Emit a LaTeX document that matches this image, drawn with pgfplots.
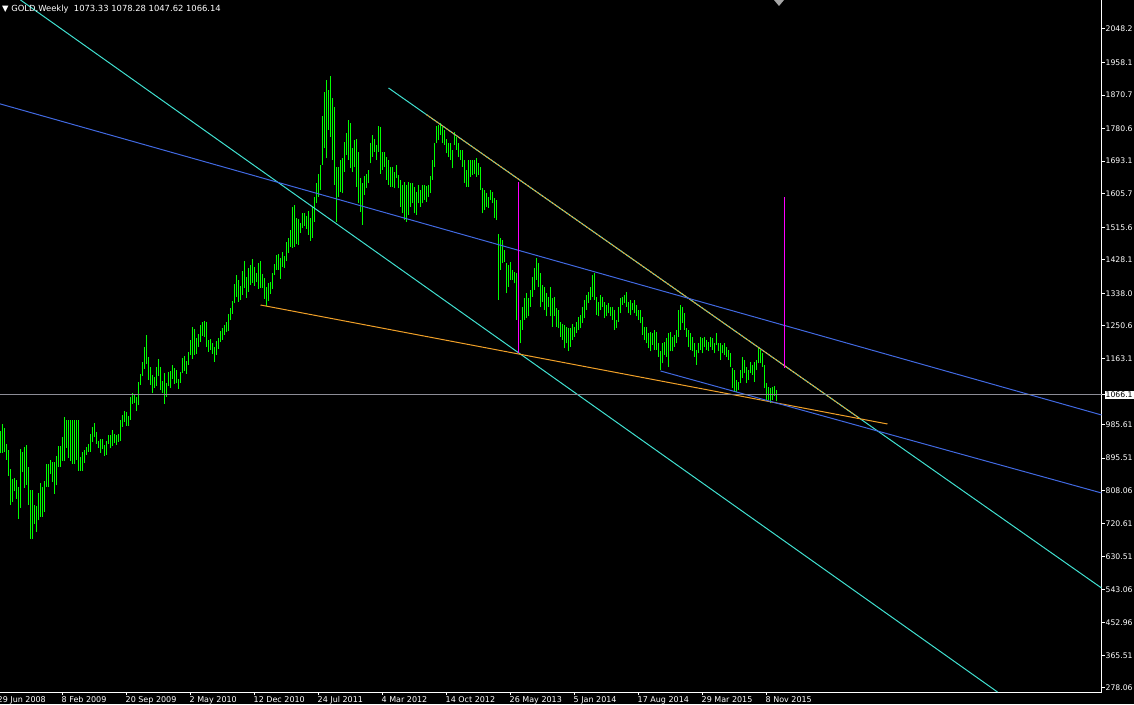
\documentclass[border=0pt]{standalone}
\usepackage{pgfplots}
\usepackage{pgfplotstable}
\usepackage{fontspec}
\setmainfont{DejaVu Sans}
\pgfplotsset{compat=1.18}

\definecolor{barg}{RGB}{0,255,0}
\definecolor{tq}{RGB}{64,224,208}
\definecolor{rb}{RGB}{65,105,225}
\definecolor{og}{RGB}{240,160,40}
\definecolor{mg}{RGB}{255,0,255}
\definecolor{gl}{RGB}{140,140,150}

% weekly bars: week index (0 = 29 Jun 2008), high, low
\pgfplotstableread[row sep=\\]{
w h l\\
1 969 910\\ 2 987 910\\ 3 976 912\\ 4 933 891\\ 5 916 848\\ 6 866 770\\ 7 839 778\\ 8 842 806\\
9 837 786\\ 10 819 732\\ 11 920 762\\ 12 912 859\\ 13 925 816\\ 14 931 824\\ 15 872 770\\ 16 810 679\\
17 810 679\\ 18 770 719\\ 19 767 698\\ 20 802 728\\ 21 829 738\\ 22 818 738\\ 23 834 752\\ 24 880 819\\
25 880 819\\ 26 891 854\\ 27 885 832\\ 28 885 800\\ 29 901 822\\ 30 928 872\\ 31 928 872\\ 32 952 888\\
33 1006 888\\ 34 998 923\\ 35 998 896\\ 36 998 888\\ 37 998 880\\ 38 998 880\\ 39 998 891\\ 40 998 861\\
41 899 861\\ 42 912 861\\ 43 917 882\\ 44 925 904\\ 45 933 912\\ 46 960 912\\ 47 979 939\\ 48 990 952\\
49 966 933\\ 50 941 923\\ 51 947 909\\ 52 947 920\\ 53 931 901\\ 54 941 904\\ 55 958 933\\ 56 958 922\\
57 971 928\\ 58 960 936\\ 59 958 931\\ 60 960 939\\ 61 998 941\\ 62 1011 979\\ 63 1022 993\\ 64 1019 982\\
65 1009 982\\ 66 1060 998\\ 67 1070 1041\\ 68 1068 1044\\ 69 1060 1022\\ 70 1100 1038\\ 71 1121 1092\\ 72 1154 1116\\
73 1194 1135\\ 74 1226 1148\\ 75 1167 1105\\ 76 1140 1092\\ 77 1119 1070\\ 78 1113 1084\\ 79 1140 1089\\ 80 1162 1116\\
81 1140 1079\\ 82 1103 1070\\ 83 1124 1041\\ 84 1097 1060\\ 85 1127 1089\\ 86 1130 1084\\ 87 1146 1108\\ 88 1138 1095\\
89 1132 1097\\ 90 1108 1081\\ 91 1127 1097\\ 92 1164 1124\\ 93 1170 1130\\ 94 1156 1122\\ 95 1181 1146\\ 96 1213 1173\\
97 1248 1162\\ 98 1242 1173\\ 99 1218 1175\\ 100 1229 1194\\ 101 1253 1207\\ 102 1261 1224\\ 103 1264 1221\\ 104 1261 1194\\
105 1213 1181\\ 106 1216 1186\\ 107 1205 1175\\ 108 1194 1154\\ 109 1210 1173\\ 110 1218 1189\\ 111 1237 1207\\ 112 1245 1213\\
113 1253 1226\\ 114 1261 1234\\ 115 1283 1237\\ 116 1299 1266\\ 117 1318 1283\\ 118 1363 1312\\ 119 1387 1328\\ 120 1374 1315\\
121 1358 1320\\ 122 1398 1334\\ 123 1425 1353\\ 124 1382 1326\\ 125 1406 1342\\ 126 1414 1361\\ 127 1430 1366\\ 128 1409 1358\\
129 1393 1369\\ 130 1420 1350\\ 131 1425 1353\\ 132 1390 1353\\ 133 1379 1323\\ 134 1355 1304\\ 135 1366 1318\\ 136 1369 1336\\
137 1393 1350\\ 138 1417 1387\\ 139 1441 1401\\ 140 1444 1401\\ 141 1433 1377\\ 142 1449 1409\\ 143 1438 1406\\ 144 1476 1425\\
145 1487 1447\\ 146 1508 1463\\ 147 1570 1460\\ 148 1575 1463\\ 149 1540 1471\\ 150 1538 1468\\ 151 1527 1500\\ 152 1554 1514\\
153 1554 1519\\ 154 1546 1510\\ 155 1559 1495\\ 156 1540 1479\\ 157 1571 1487\\ 158 1598 1531\\ 159 1634 1580\\ 160 1660 1598\\
161 1683 1616\\ 162 1814 1683\\ 163 1879 1728\\ 164 1911 1701\\ 165 1884 1777\\ 166 1922 1759\\ 167 1862 1696\\ 168 1840 1629\\
169 1678 1531\\ 170 1678 1598\\ 171 1696 1611\\ 172 1701 1607\\ 173 1745 1665\\ 174 1768 1710\\ 175 1804 1696\\ 176 1795 1674\\
177 1728 1665\\ 178 1750 1678\\ 179 1754 1625\\ 180 1719 1580\\ 181 1647 1557\\ 182 1634 1522\\ 183 1652 1602\\ 184 1660 1620\\
185 1670 1634\\ 186 1741 1687\\ 187 1763 1705\\ 188 1754 1719\\ 189 1737 1696\\ 190 1788 1719\\ 191 1786 1660\\ 192 1719 1670\\
193 1719 1678\\ 194 1705 1643\\ 195 1696 1629\\ 196 1678 1625\\ 197 1678 1625\\ 198 1665 1620\\ 199 1683 1647\\ 200 1656 1620\\
201 1643 1571\\ 202 1629 1553\\ 203 1638 1535\\ 204 1629 1531\\ 205 1638 1549\\ 206 1634 1571\\ 207 1634 1580\\ 208 1625 1553\\
209 1611 1549\\ 210 1629 1580\\ 211 1616 1571\\ 212 1629 1580\\ 213 1629 1589\\ 214 1627 1584\\ 215 1629 1598\\ 216 1652 1607\\
217 1696 1643\\ 218 1741 1678\\ 219 1788 1741\\ 220 1790 1750\\ 221 1795 1763\\ 222 1786 1741\\ 223 1777 1737\\ 224 1754 1714\\
225 1741 1705\\ 226 1741 1696\\ 227 1723 1674\\ 228 1772 1737\\ 229 1759 1723\\ 230 1741 1705\\ 231 1723 1696\\ 232 1723 1678\\
233 1696 1634\\ 234 1670 1625\\ 235 1696 1625\\ 236 1696 1651\\ 237 1696 1656\\ 238 1696 1660\\ 239 1701 1651\\ 240 1687 1656\\
241 1678 1616\\ 242 1620 1553\\ 243 1616 1562\\ 244 1607 1571\\ 245 1596 1568\\ 246 1616 1589\\ 247 1611 1580\\ 248 1593 1540\\
249 1590 1535\\ 250 1497 1321\\ 251 1486 1401\\ 252 1481 1419\\ 253 1455 1423\\ 254 1419 1338\\ 255 1414 1356\\ 256 1423 1374\\
257 1401 1374\\ 258 1396 1365\\ 259 1392 1267\\ 260 1356 1179\\ 261 1267 1204\\ 262 1302 1240\\ 263 1325 1267\\ 264 1338 1271\\
265 1325 1276\\ 266 1347 1302\\ 267 1383 1329\\ 268 1405 1347\\ 269 1432 1374\\ 270 1419 1356\\ 271 1392 1302\\ 272 1361 1316\\
273 1356 1293\\ 274 1338 1276\\ 275 1329 1302\\ 276 1356 1276\\ 277 1325 1249\\ 278 1329 1276\\ 279 1298 1249\\ 280 1293 1244\\
281 1262 1222\\ 282 1257 1213\\ 283 1253 1190\\ 284 1249 1204\\ 285 1244 1182\\ 286 1244 1195\\ 287 1257 1213\\ 288 1249 1222\\
289 1262 1231\\ 290 1275 1240\\ 291 1280 1244\\ 292 1302 1258\\ 293 1320 1271\\ 294 1334 1293\\ 295 1343 1311\\ 296 1356 1320\\
297 1387 1329\\ 298 1392 1320\\ 299 1329 1280\\ 300 1316 1276\\ 301 1334 1293\\ 302 1329 1302\\ 303 1316 1271\\ 304 1307 1276\\
305 1311 1284\\ 306 1302 1276\\ 307 1302 1267\\ 308 1293 1240\\ 309 1267 1244\\ 310 1302 1262\\ 311 1325 1284\\ 312 1329 1307\\
313 1334 1311\\ 314 1343 1302\\ 315 1316 1284\\ 316 1320 1280\\ 317 1311 1293\\ 318 1320 1284\\ 319 1307 1276\\ 320 1293 1267\\
321 1293 1258\\ 322 1275 1226\\ 323 1249 1213\\ 324 1249 1204\\ 325 1231 1190\\ 326 1235 1182\\ 327 1231 1200\\ 328 1240 1186\\
329 1235 1186\\ 330 1204 1168\\ 331 1182 1132\\ 332 1204 1150\\ 333 1208 1173\\ 334 1217 1168\\ 335 1231 1141\\ 336 1235 1182\\
337 1222 1182\\ 338 1226 1195\\ 339 1240 1204\\ 340 1293 1222\\ 341 1307 1240\\ 342 1302 1258\\ 343 1284 1240\\ 344 1244 1222\\
345 1240 1195\\ 346 1231 1186\\ 347 1222 1182\\ 348 1204 1168\\ 349 1186 1146\\ 350 1204 1177\\ 351 1222 1186\\ 352 1217 1177\\
353 1222 1195\\ 354 1213 1186\\ 355 1208 1182\\ 356 1222 1195\\ 357 1217 1186\\ 358 1204 1177\\ 359 1231 1200\\ 360 1204 1182\\
361 1204 1159\\ 362 1199 1177\\ 363 1204 1173\\ 364 1195 1168\\ 365 1186 1159\\ 366 1177 1141\\ 367 1137 1083\\ 368 1132 1074\\
369 1105 1074\\ 370 1101 1079\\ 371 1132 1096\\ 372 1168 1110\\ 373 1159 1123\\ 374 1141 1096\\ 375 1132 1105\\ 376 1155 1123\\
377 1146 1119\\ 378 1155 1101\\ 379 1159 1132\\ 380 1190 1150\\ 381 1186 1150\\ 382 1177 1141\\ 383 1146 1083\\ 384 1096 1052\\
385 1087 1052\\ 386 1083 1043\\ 387 1087 1052\\ 388 1088 1062\\ 389 1078.28 1047.62\\
}\gold

\begin{document}
\begin{tikzpicture}
\useasboundingbox (0,0) rectangle (1134pt,704pt);
\fill[black] (0,0) rectangle (1134pt,704pt);
\begin{axis}[
  at={(-1.5pt,12pt)}, anchor=south west,
  width=1103pt, height=692pt, scale only axis,
  xmin=0, xmax=551.5, ymin=267.3, ymax=2126.1,
  axis x line*=bottom, axis y line*=right,
  axis line style={white, line width=1pt, -},
  tick style={white, line width=1pt},
  tick align=outside, major tick length=3pt,
  xtick={0,32,...,384},
  xticklabels={29 Jun 2008, 8 Feb 2009, 20 Sep 2009, 2 May 2010, 12 Dec 2010, 24 Jul 2011, 4 Mar 2012, 14 Oct 2012, 26 May 2013, 5 Jan 2014, 17 Aug 2014, 29 Mar 2015, 8 Nov 2015},
  ytick={278.06,365.51,452.96,543.06,630.51,720.61,808.06,895.51,985.61,1163.1,1250.6,1338.0,1428.1,1515.6,1605.7,1693.1,1780.6,1870.7,1958.1,2048.2},
  yticklabels={278.06,365.51,452.96,543.06,630.51,720.61,808.06,895.51,985.61,1163.1,1250.6,1338.0,1428.1,1515.6,1605.7,1693.1,1780.6,1870.7,1958.1,2048.2},
  ticklabel style={text=white, font=\fontsize{8}{9}\selectfont},
  xticklabel style={anchor=north west, inner sep=0pt, xshift=-1pt, yshift=-1pt},
  yticklabel style={anchor=west, inner sep=0pt, xshift=1pt, font=\fontsize{7.7}{9}\selectfont},
  extra y ticks={1066.14}, extra y tick labels={1066.1},
  extra y tick style={yticklabel style={fill=white, text=black, inner sep=1pt, xshift=-1pt}},
]
% weekly high-low bars
\addplot[barg, line width=1pt, quiver={u=0, v=\thisrow{h}-\thisrow{l}}] table[x=w, y=l] {\gold};

% trend lines
\addplot[tq, line width=1pt] coordinates {(11,2126.1) (499.5,267.3)};
\addplot[tq, line width=1pt] coordinates {(195,1889.7) (551.5,546.7)};
\addplot[og, line width=1pt, dash pattern=on 2pt off 1pt] coordinates {(214,1818.1) (430,1004.4)};
\addplot[og, line width=1pt] coordinates {(131,1306.8) (444.5,987.2)};
\addplot[rb, line width=1pt] coordinates {(0,1848.2) (551.5,1011.4)};
\addplot[rb, line width=1pt] coordinates {(331,1129.6) (551.5,801.9)};
\addplot[mg, line width=1.5pt] coordinates {(260,1637.2) (260,1177.9)};
\addplot[mg, line width=1.5pt] coordinates {(393,1596.9) (393,1137.6)};
\addplot[gl, line width=0.8pt] coordinates {(0,1066.14) (551.5,1066.14)};
\end{axis}
\node[anchor=base west, inner sep=0pt, text=white, font=\fontsize{8.4}{9}\selectfont] at (2pt,692pt) {▼ GOLD,Weekly\ \ 1073.33 1078.28 1047.62 1066.14};
\fill[gray!70] (774pt,704pt) -- (784pt,704pt) -- (779pt,698pt) -- cycle;
\end{tikzpicture}
\end{document}
